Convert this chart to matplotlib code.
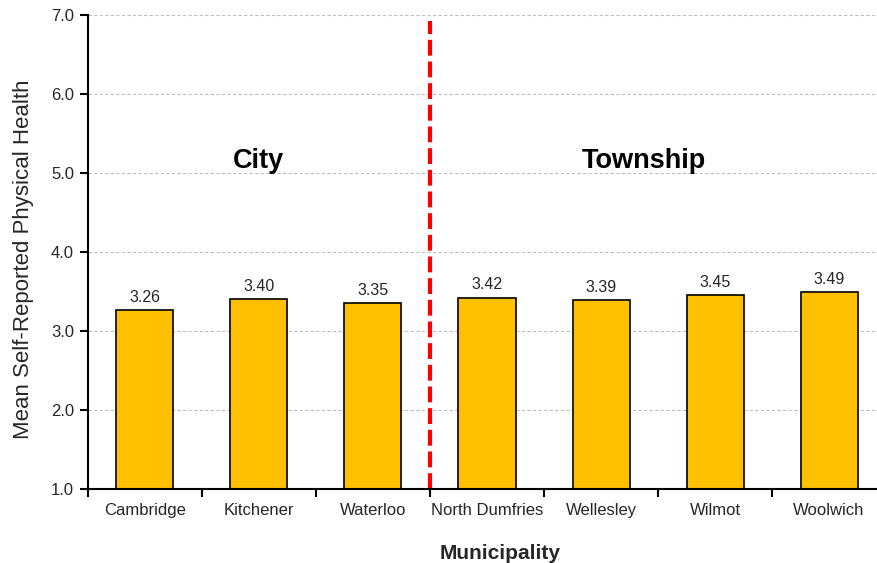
import matplotlib
matplotlib.use('Agg')
import matplotlib.pyplot as plt
import numpy as np

# --- data ---
municipalities = ['Cambridge', 'Kitchener', 'Waterloo', 'North Dumfries',
                  'Wellesley', 'Wilmot', 'Woolwich']
mean_health = [3.26, 3.40, 3.35, 3.42, 3.39, 3.45, 3.49]
group_labels = ['City', 'Township']
group_label_x = [1.0, 4.38]
group_label_y = 5.15
divider_x = 2.5
y_ticks = [1.0, 2.0, 3.0, 4.0, 5.0, 6.0, 7.0]

plt.rcParams['font.family'] = ['Liberation Sans', 'DejaVu Sans']
text_col = '#262626'

fig = plt.figure(figsize=(8.77, 5.63), dpi=100)
ax = fig.add_axes([0.1003, 0.1314, 0.910, 0.842])

x = np.arange(len(municipalities))
ax.bar(x, np.array(mean_health) - 1.0, bottom=1.0, width=0.5,
       color='#FFC000', edgecolor='black', linewidth=1.2, zorder=3)

# value labels above bars
for xi, v in zip(x, mean_health):
    ax.annotate(f'{v:.2f}', (xi, v), xytext=(0, 4), textcoords='offset points',
                ha='center', va='bottom', fontsize=11.5, color=text_col)

# city / township divider
ax.plot([divider_x, divider_x], [1.0, 6.92], color='#FF0000', linewidth=3,
        dashes=(3.8, 1.4), zorder=4, solid_capstyle='butt')

for lab, gx in zip(group_labels, group_label_x):
    ax.text(gx, group_label_y, lab, ha='center', va='center',
            fontsize=19.5, fontweight='bold', color='black')

# axes styling
ax.set_xlim(-0.5, len(municipalities) - 0.5)
ax.set_ylim(1.0, 7.0)
ax.set_yticks(y_ticks)
ax.set_yticklabels([f'{t:.1f}' for t in y_ticks], fontsize=12, color=text_col)
ax.set_xticks(x)
ax.set_xticklabels(municipalities, fontsize=12, color=text_col)
ax.set_xticks(np.arange(-0.5, len(municipalities)), minor=True)
ax.tick_params(axis='x', which='major', length=0, pad=10)
ax.tick_params(axis='x', which='minor', length=6, width=1.5, direction='out')
ax.tick_params(axis='y', length=6, width=1.5, direction='out', pad=4)

ax.yaxis.grid(True, color='#BFBFBF', linestyle=(0, (3, 2)), linewidth=0.8, zorder=0)
ax.set_axisbelow(True)

for s in ['top', 'right']:
    ax.spines[s].set_visible(False)
for s in ['left', 'bottom']:
    ax.spines[s].set_linewidth(1.5)
    ax.spines[s].set_zorder(5)

ax.set_ylabel('Mean Self-Reported Physical Health', fontsize=16, color=text_col)
ax.yaxis.set_label_coords(-0.067, 0.485)
ax.set_xlabel('Municipality', fontsize=15, fontweight='bold', color=text_col)
ax.xaxis.set_label_coords(0.516, -0.115)

fig.savefig('out.png', dpi=100)
